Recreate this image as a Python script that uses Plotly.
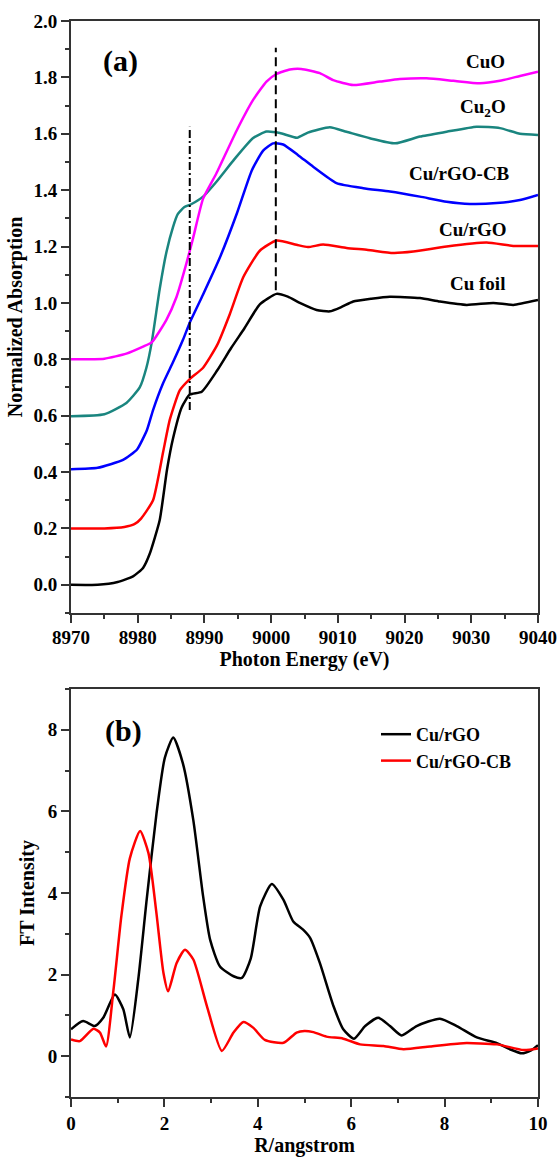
import plotly.graph_objects as go

# ---------------- (a) XANES data ----------------
foil_E = [8970, 8974, 8977, 8979.3, 8980.8, 8981.8, 8983.3, 8984.4, 8985.3, 8986.6, 8987.8, 8989.6,
          8991.9, 8994, 8996, 8998.3, 9000.8, 9002.5, 9004.3, 9006.8, 9008.8, 9010.5, 9012.3, 9015,
          9017.8, 9022.3, 9025.3, 9029.3, 9033.3, 9036.3, 9040]
foil_y = [0.0, 0.0, 0.01, 0.03, 0.06, 0.11, 0.23, 0.41, 0.52, 0.63, 0.675, 0.685,
          0.76, 0.84, 0.91, 0.995, 1.032, 1.022, 1.0, 0.975, 0.97, 0.985, 1.005, 1.015,
          1.022, 1.017, 1.005, 0.993, 1.0, 0.993, 1.01]

rgo_E = [8970, 8975, 8978, 8979.5, 8980.5, 8982.3, 8983.8, 8984.8, 8986.3, 8987.8, 8989.8, 8991.9,
         8993.8, 8995.8, 8998.3, 9000.8, 9003.8, 9005.5, 9007.8, 9011.3, 9014.5, 9018.3, 9021.3,
         9026.3, 9032.3, 9036.3, 9040]
rgo_y = [0.2, 0.2, 0.205, 0.215, 0.235, 0.30, 0.47, 0.585, 0.69, 0.73, 0.77, 0.85,
         0.96, 1.09, 1.185, 1.221, 1.206, 1.198, 1.207, 1.195, 1.188, 1.177, 1.182,
         1.20, 1.214, 1.202, 1.202]

cb_E = [8970, 8974, 8977.8, 8979.9, 8981.4, 8982.3, 8983.8, 8985.3, 8986.8, 8987.8, 8989.8, 8992.3,
        8994.9, 8997.1, 8998.8, 9000.3, 9001.8, 9004.0, 9006.3, 9009.8, 9013.8, 9017.8, 9022.3,
        9026.3, 9029.8, 9033.8, 9037.3, 9040]
cb_y = [0.41, 0.415, 0.443, 0.48, 0.55, 0.62, 0.715, 0.79, 0.87, 0.93, 1.03, 1.16,
        1.32, 1.47, 1.54, 1.566, 1.562, 1.525, 1.483, 1.425, 1.407, 1.395, 1.377,
        1.359, 1.351, 1.354, 1.365, 1.383]

cu2o_E = [8970, 8975, 8978.3, 8980.3, 8981.3, 8982.1, 8983.3, 8984.3, 8985.3, 8986.0, 8987.0, 8988.0,
          8989.8, 8991.8, 8994.5, 8997.3, 8999.3, 9001.3, 9003.9, 9005.5, 9008.8, 9011.3, 9014.8,
          9018.6, 9022.3, 9026.3, 9030.8, 9034.3, 9037.3, 9040]
cu2o_y = [0.598, 0.605, 0.645, 0.70, 0.77, 0.86, 1.05, 1.18, 1.27, 1.315, 1.34, 1.35,
          1.377, 1.43, 1.51, 1.585, 1.608, 1.603, 1.586, 1.604, 1.623, 1.607, 1.584,
          1.566, 1.59, 1.607, 1.625, 1.62, 1.60, 1.596]

cuo_E = [8970, 8975, 8978.3, 8980.8, 8982.1, 8984.3, 8985.8, 8987.3, 8988.3, 8989.8, 8991.8, 8994.8,
         8997.3, 8999.3, 9000.8, 9002.8, 9004.5, 9007.3, 9009.3, 9012.3, 9016.3, 9019.3, 9023.3,
         9027.3, 9031.3, 9034.3, 9037.3, 9040]
cuo_y = [0.80, 0.802, 0.82, 0.845, 0.86, 0.94, 1.02, 1.14, 1.23, 1.37, 1.46, 1.61,
         1.72, 1.785, 1.812, 1.828, 1.83, 1.815, 1.79, 1.773, 1.785, 1.794, 1.797,
         1.788, 1.779, 1.788, 1.805, 1.82]

# reference lines
dashdot_E = [8987.8, 8987.8]
dashdot_y = [0.62, 1.625]
dash_E = [9000.7, 9000.7]
dash_y = [1.045, 1.905]

# series labels (text, x, y)
label_text = ["CuO", "Cu<sub>2</sub>O", "Cu/rGO-CB", "Cu/rGO", "Cu foil"]
label_x = [9032.2, 9031.8, 9028.3, 9030.3, 9031.0]
label_y = [1.855, 1.69, 1.458, 1.262, 1.068]

# ---------------- (b) FT data ----------------
ft_rgo_R = [0, 0.26, 0.51, 0.69, 0.94, 1.12, 1.26, 1.44, 1.62, 1.83, 2.01, 2.19, 2.40, 2.62, 2.83,
            2.98, 3.19, 3.48, 3.66, 3.85, 4.05, 4.30, 4.55, 4.76, 4.97, 5.12, 5.33, 5.62, 5.83,
            6.06, 6.30, 6.58, 6.83, 7.08, 7.40, 7.90, 8.26, 8.69, 9.12, 9.40, 9.65, 9.86, 10.0]
ft_rgo_I = [0.66, 0.86, 0.74, 0.94, 1.51, 1.15, 0.46, 1.88, 3.83, 5.94, 7.32, 7.81, 7.16, 5.78, 3.91,
            2.85, 2.20, 1.96, 1.92, 2.4, 3.67, 4.22, 3.83, 3.30, 3.10, 2.90, 2.28, 1.23, 0.66,
            0.43, 0.74, 0.94, 0.74, 0.51, 0.74, 0.92, 0.74, 0.46, 0.32, 0.17, 0.07, 0.15, 0.27]

ft_cb_R = [0, 0.19, 0.48, 0.62, 0.75, 0.91, 1.08, 1.26, 1.48, 1.66, 1.83, 1.98, 2.08, 2.26, 2.44,
           2.62, 2.91, 3.23, 3.48, 3.69, 3.90, 4.15, 4.55, 4.83, 5.0, 5.19, 5.47, 5.83, 6.19,
           6.69, 7.12, 7.69, 8.40, 9.12, 9.69, 10.0]
ft_cb_I = [0.41, 0.37, 0.67, 0.58, 0.24, 1.63, 3.45, 4.85, 5.52, 4.97, 3.50, 2.04, 1.59, 2.28, 2.61,
           2.37, 1.23, 0.13, 0.58, 0.84, 0.70, 0.40, 0.33, 0.58, 0.62, 0.59, 0.48, 0.43, 0.29,
           0.25, 0.17, 0.24, 0.32, 0.29, 0.15, 0.19]

FONT = "'Liberation Serif', 'Times New Roman', serif"
W, H = 559, 1159

fig = go.Figure()

def add_line(x, y, color, name, xa, ya, legend=False, width=2.5, smoothing=0.5):
    fig.add_trace(go.Scatter(
        x=x, y=y, mode="lines", name=name, showlegend=legend,
        line=dict(color=color, width=width, shape="spline", smoothing=smoothing),
        xaxis=xa, yaxis=ya, hoverinfo="skip"))

add_line(foil_E, foil_y, "#000000", "Cu foil", "x", "y")
add_line(rgo_E, rgo_y, "#ff0000", "Cu/rGO", "x", "y")
add_line(cb_E, cb_y, "#0000ff", "Cu/rGO-CB", "x", "y")
add_line(cu2o_E, cu2o_y, "#1a857f", "Cu2O", "x", "y")
add_line(cuo_E, cuo_y, "#ff00ff", "CuO", "x", "y")

fig.add_trace(go.Scatter(x=dashdot_E, y=dashdot_y, mode="lines", showlegend=False,
                         line=dict(color="#000", width=2, dash="8px,3px,2px,3px"),
                         xaxis="x", yaxis="y", hoverinfo="skip"))
fig.add_trace(go.Scatter(x=dash_E, y=dash_y, mode="lines", showlegend=False,
                         line=dict(color="#000", width=2, dash="9px,5px"),
                         xaxis="x", yaxis="y", hoverinfo="skip"))

add_line(ft_rgo_R, ft_rgo_I, "#000000", "Cu/rGO", "x2", "y2", legend=True, smoothing=0.6)
add_line(ft_cb_R, ft_cb_I, "#ff0000", "Cu/rGO-CB", "x2", "y2", legend=True, smoothing=0.6)

tickfont = dict(family=FONT, size=19, color="#000", weight="bold")
titlefont = dict(family=FONT, size=20, color="#000", weight="bold")
axcommon = dict(showline=True, linecolor="#333", linewidth=1.8, mirror=True,
                ticks="outside", tickcolor="#333", tickwidth=1.5, ticklen=8,
                showgrid=False, zeroline=False, tickfont=tickfont, automargin=False)

xd = [71 / W, 538 / W]
fig.update_layout(
    width=W, height=H, margin=dict(l=0, r=0, t=0, b=0, autoexpand=False),
    paper_bgcolor="white", plot_bgcolor="white",
    font=dict(family=FONT, color="#000"),
    xaxis=dict(domain=xd, range=[8970, 9040], dtick=10, tick0=8970, ticklabelstandoff=-2,
               minor=dict(ticks="outside", dtick=5, ticklen=4, tickcolor="#333", tickwidth=1.5),
               title=dict(text="Photon Energy (eV)", font=titlefont, standoff=0),
               anchor="y", **axcommon),
    yaxis=dict(domain=[1 - 613 / H, 1 - 21 / H], range=[-0.1, 2.0], dtick=0.2, tick0=0,
               tickformat=".1f",
               minor=dict(ticks="outside", dtick=0.1, ticklen=4, tickcolor="#333", tickwidth=1.5),
               title=dict(text="Normalized Absorption", font=titlefont, standoff=6),
               anchor="x", **axcommon),
    xaxis2=dict(domain=xd, range=[0, 10], dtick=2, tick0=0,
                minor=dict(ticks="outside", dtick=1, ticklen=4, tickcolor="#333", tickwidth=1.5),
                title=dict(text="R/angstrom", font=titlefont, standoff=2),
                anchor="y2", **axcommon),
    yaxis2=dict(domain=[1 - 1097 / H, 1 - 689 / H], range=[-1, 9], dtick=2, tick0=0,
                minor=dict(ticks="outside", dtick=1, ticklen=4, tickcolor="#333", tickwidth=1.5),
                title=dict(text="FT Intensity", font=titlefont, standoff=8),
                anchor="x2", **axcommon),
    legend=dict(x=376 / W, y=1 - 716 / H, xanchor="left", yanchor="top",
                bgcolor="rgba(0,0,0,0)", font=dict(family=FONT, size=18, color="#000", weight="bold"),
                itemwidth=30, tracegroupgap=0),
    showlegend=True,
)

annotations = []
for t, x, y in zip(label_text, label_x, label_y):
    annotations.append(dict(text=t, x=x, y=y, xref="x", yref="y", showarrow=False,
                            xanchor="center", yanchor="middle",
                            font=dict(family=FONT, size=19, color="#000", weight="bold")))
annotations.append(dict(text="(a)", x=120 / W, y=1 - 61 / H, xref="paper", yref="paper",
                        showarrow=False, xanchor="center", yanchor="middle",
                        font=dict(family=FONT, size=30, color="#000", weight="bold")))
annotations.append(dict(text="(b)", x=123 / W, y=1 - 731 / H, xref="paper", yref="paper",
                        showarrow=False, xanchor="center", yanchor="middle",
                        font=dict(family=FONT, size=30, color="#000", weight="bold")))
fig.update_layout(annotations=annotations)

fig.write_html("out.html")
